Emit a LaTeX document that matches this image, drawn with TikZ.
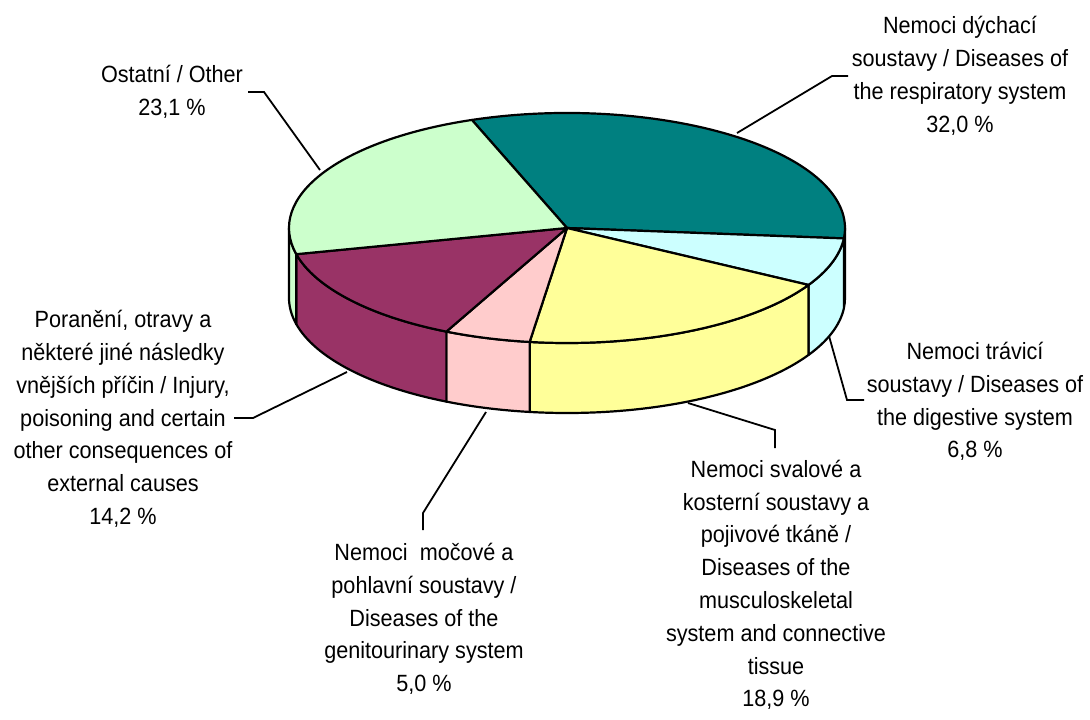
\documentclass[tikz,border=0pt]{standalone}
\usepackage{fontspec}
\setmainfont{Liberation Sans}[FakeStretch=0.92]
\definecolor{cteal}{HTML}{008080}
\definecolor{ccyan}{HTML}{CCFFFF}
\definecolor{cyel}{HTML}{FFFF99}
\definecolor{cpink}{HTML}{FFCCCC}
\definecolor{cmaroon}{HTML}{993366}
\definecolor{cgreen}{HTML}{CCFFCC}
\newcommand\pcx{567}
\newcommand\pcy{-228}
\newcommand\prx{278}
\newcommand\pry{115}
\newcommand\pdepth{70}
\newcommand\pietop[3]{\filldraw[slicestyle,fill=#3,shift={(\pcx,\pcy)}] (0,0) -- (#1:\prx\space and \pry) arc[start angle=#1,end angle=#2,x radius=\prx,y radius=\pry] -- cycle;}
\newcommand\pieside[3]{\filldraw[slicestyle,fill=#3,shift={(\pcx,\pcy)}] (#1:\prx\space and \pry) arc[start angle=#1,end angle=#2,x radius=\prx,y radius=\pry] -- ++(0,-\pdepth) arc[start angle=#2,end angle=#1,x radius=\prx,y radius=\pry] -- cycle;}
\begin{document}
\begin{tikzpicture}[x=1pt,y=1pt,
  slicestyle/.style={draw=black,line width=2.2pt,line join=round},
  leader/.style={draw=black,line width=1.8pt},
  lbl/.style={align=center,inner sep=0pt,font=\fontsize{23.5}{32.8}\selectfont}]
\useasboundingbox (0,0) rectangle (1090,-720);
\fill[white] (0,0) rectangle (1090,-720);
% sides
\pieside{0}{-5.2}{cteal}
\pieside{-5.2}{-29.68}{ccyan}
\pieside{-29.68}{-97.72}{cyel}
\pieside{-97.72}{-115.72}{cpink}
\pieside{-115.72}{-166.84}{cmaroon}
\pieside{-166.84}{-180}{cgreen}
% top
\pietop{110}{-5.2}{cteal}
\pietop{-5.2}{-29.68}{ccyan}
\pietop{-29.68}{-97.72}{cyel}
\pietop{-97.72}{-115.72}{cpink}
\pietop{-115.72}{-166.84}{cmaroon}
\pietop{-166.84}{-250}{cgreen}
% labels
\node[lbl] (other) at (172,-91.5) {Ostatní / Other\\23,1 \%};
\node[lbl] (resp) at (960,-76) {Nemoci dýchací\\soustavy / Diseases of\\the respiratory system\\32,0 \%};
\node[lbl] (dig) at (975,-401.5) {Nemoci trávicí\\soustavy / Diseases of\\the digestive system\\6,8 \%};
\node[lbl] (musc) at (776,-585) {Nemoci svalové a\\kosterní soustavy a\\pojivové tkáně /\\Diseases of the\\musculoskeletal\\system and connective\\tissue\\18,9 \%};
\node[lbl] (gen) at (424,-619) {Nemoci\ \ močové a\\pohlavní soustavy /\\Diseases of the\\genitourinary system\\5,0 \%};
\node[lbl] (inj) at (123,-419) {Poranění, otravy a\\některé jiné následky\\vnějších příčin / Injury,\\poisoning and certain\\other consequences of\\external causes\\14,2 \%};
% leader anchor points
\coordinate (pOther) at (320,-170);
\coordinate (kOther) at (264,-92);
\coordinate (eOther) at (248,-92);
\coordinate (pResp) at (737,-133);
\coordinate (kResp) at (832,-76);
\coordinate (eResp) at (848,-76);
\coordinate (pDig) at (829,-336);
\coordinate (kDig) at (847,-400);
\coordinate (eDig) at (864,-400);
\coordinate (pMusc) at (688,-403);
\coordinate (kMusc) at (775,-430);
\coordinate (eMusc) at (775,-448);
\coordinate (pGen) at (486,-412);
\coordinate (kGen) at (423,-513);
\coordinate (eGen) at (423,-530);
\coordinate (pInj) at (347,-372);
\coordinate (kInj) at (253,-418);
\coordinate (eInj) at (234,-418);
\draw[leader] (pOther) -- (kOther) -- (eOther);
\draw[leader] (pResp) -- (kResp) -- (eResp);
\draw[leader] (pDig) -- (kDig) -- (eDig);
\draw[leader] (pMusc) -- (kMusc) -- (eMusc);
\draw[leader] (pGen) -- (kGen) -- (eGen);
\draw[leader] (pInj) -- (kInj) -- (eInj);
\end{tikzpicture}
\end{document}
